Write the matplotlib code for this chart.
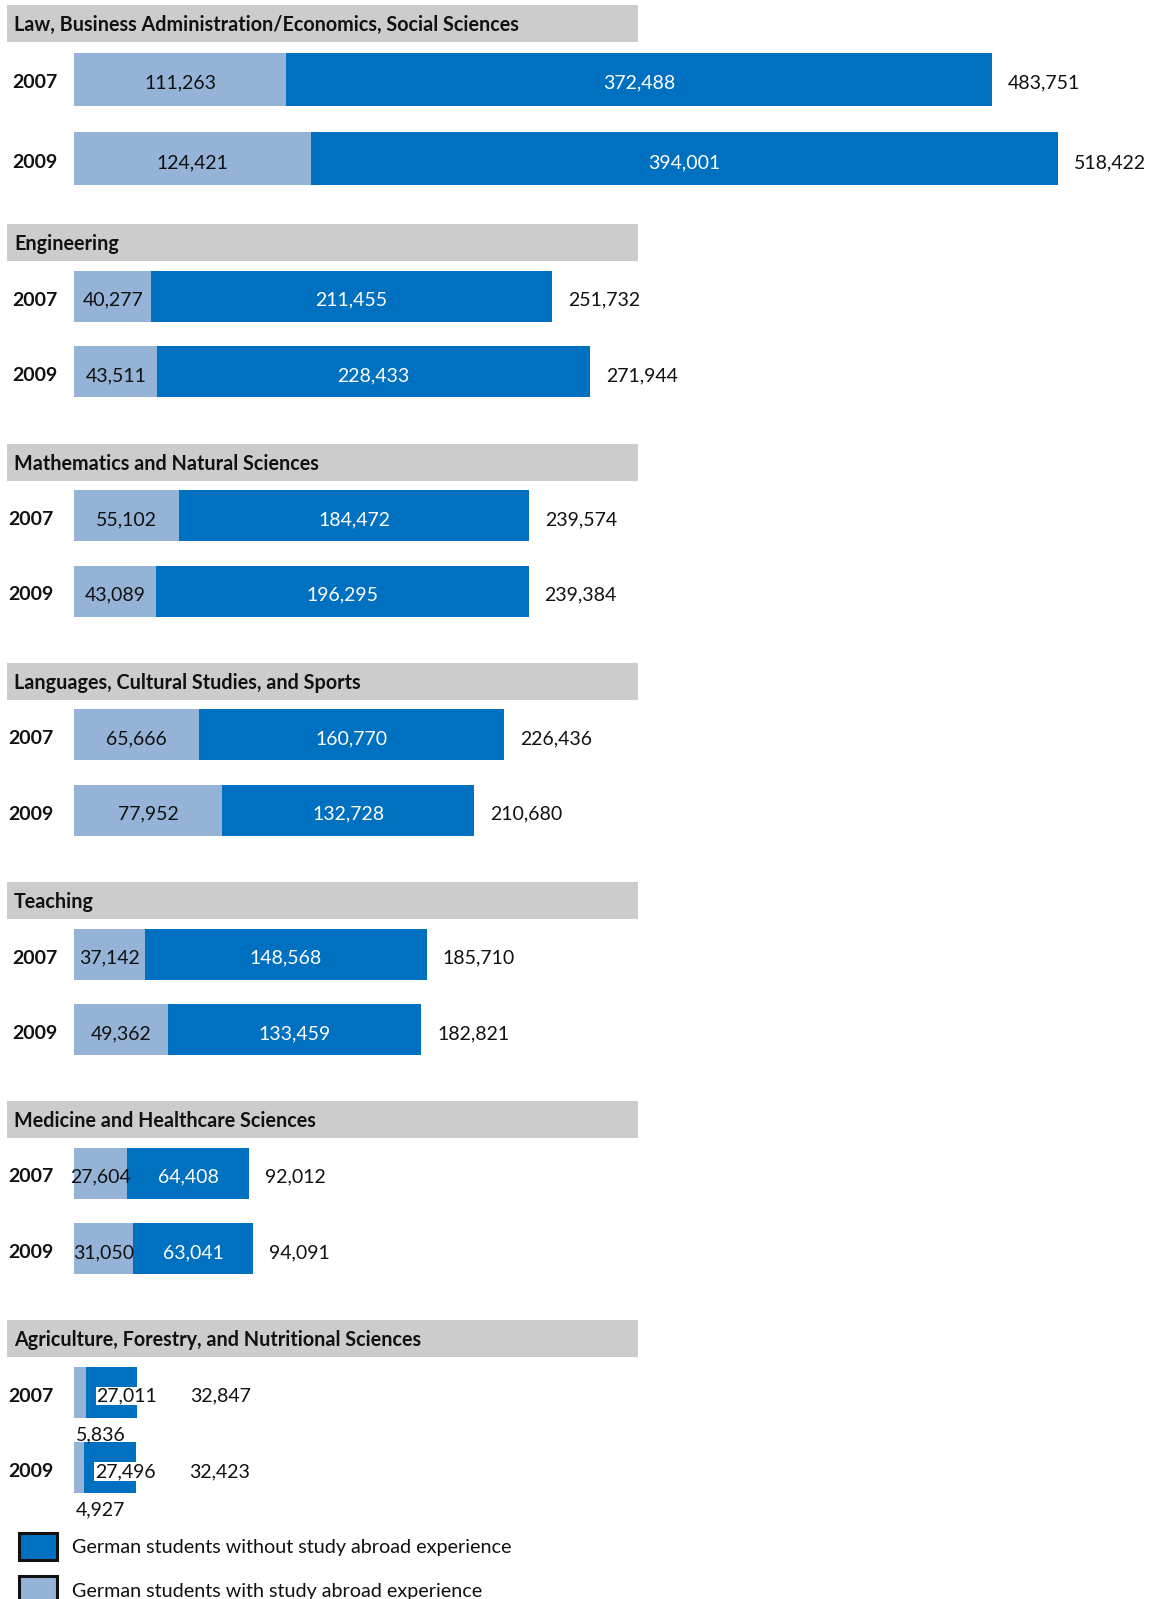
import matplotlib
matplotlib.use("Agg")
import matplotlib.pyplot as plt
from matplotlib.patches import Rectangle

plt.rcParams['font.family'] = ['Lato', 'DejaVu Sans']

# ---------------------------------------------------------------
# Data: German students with / without study abroad experience
# ---------------------------------------------------------------
fields = [
    "Law, Business Administration/Economics, Social Sciences",
    "Engineering",
    "Mathematics and Natural Sciences",
    "Languages, Cultural Studies, and Sports",
    "Teaching",
    "Medicine and Healthcare Sciences",
    "Agriculture, Forestry, and Nutritional Sciences",
]
years = ["2007", "2009"]

with_abroad = [
    [111263, 124421],
    [40277, 43511],
    [55102, 43089],
    [65666, 77952],
    [37142, 49362],
    [27604, 31050],
    [5836, 4927],
]
without_abroad = [
    [372488, 394001],
    [211455, 228433],
    [184472, 196295],
    [160770, 132728],
    [148568, 133459],
    [64408, 63041],
    [27011, 27496],
]
totals = [
    [483751, 518422],
    [251732, 271944],
    [239574, 239384],
    [226436, 210680],
    [185710, 182821],
    [92012, 94091],
    [32847, 32423],
]

legend_labels = [
    "German students without study abroad experience",
    "German students with study abroad experience",
]

LIGHT = "#95B3D7"
DARK = "#0070C0"
GREY = "#CCCCCC"
INK = "#111111"

# layout in pixels (figure is 1152 x 1599 at dpi 100)
W, H = 1152, 1599
X0 = 74.5                 # pixel where value 0 sits
SCALE = 983.5 / 518422    # pixels per student
section_top = [5, 224, 443.5, 662.7, 882, 1101, 1320]
year_x = [12, 12, 8, 8, 12, 8, 8]
header_h = 37
TY = 4                    # text sits a little below the bar centre


def px(x):
    """pixel x -> data x"""
    return (x - X0) / SCALE


def dpx(d):
    """pixel distance -> data distance"""
    return d / SCALE


fig = plt.figure(figsize=(W / 100, H / 100), dpi=100)
ax = fig.add_axes([0, 0, 1, 1])
ax.set_xlim(px(0), px(W))
ax.set_ylim(H, 0)
ax.axis("off")

for i, field in enumerate(fields):
    top = section_top[i]
    # grey header band
    ax.add_patch(Rectangle((px(7), top), px(638) - px(7), header_h,
                           facecolor=GREY, edgecolor="none"))
    ax.text(px(14), top + header_h / 2 + 1.5, field, fontsize=14.2,
            fontweight="bold", va="center", ha="left", color=INK)

    if i == 0:
        centers = [top + 74, top + 153.5]
        bh = 53
    else:
        centers = [top + 72, top + 147.5]
        bh = 51

    for j, yr in enumerate(years):
        yc = centers[j]
        lw = with_abroad[i][j]
        dw = without_abroad[i][j]
        ax.barh(yc, lw, height=bh, left=0, color=LIGHT)
        ax.barh(yc, dw, height=bh, left=lw, color=DARK)

        ax.text(px(year_x[i]), yc + TY, yr, fontsize=14, fontweight="bold",
                va="center", ha="left", color=INK)

        tot_gap = 16
        if lw * SCALE < 30:
            # tiny segment: label below the bar, dark label boxed in white
            ax.text(dpx(1), yc + bh / 2 + 13 + TY, f"{lw:,}", fontsize=14,
                    va="center", ha="left", color=INK)
            ax.text(lw + dpx(11), yc + TY, f"{dw:,}", fontsize=14,
                    va="center", ha="left", color=INK,
                    bbox=dict(facecolor="white", edgecolor="none", pad=0.5))
            tot_gap = 53
        else:
            ax.text(lw / 2, yc + TY, f"{lw:,}", fontsize=14,
                    va="center", ha="center", color=INK)
            ax.text(lw + dw / 2, yc + TY, f"{dw:,}", fontsize=14,
                    va="center", ha="center", color="white")

        ax.text(totals[i][j] + dpx(tot_gap), yc + TY, f"{totals[i][j]:,}",
                fontsize=14, va="center", ha="left", color=INK)

# legend
leg_y = [1546, 1589]
for k, (lab, col) in enumerate(zip(legend_labels, [DARK, LIGHT])):
    ax.add_patch(Rectangle((px(19), leg_y[k] - 13.5), px(57) - px(19), 27,
                           facecolor=col, edgecolor=INK, linewidth=2.2))
    ax.text(px(72), leg_y[k] + 2, lab, fontsize=14.2, va="center", ha="left",
            color=INK)

fig.savefig("out.png", dpi=100)
